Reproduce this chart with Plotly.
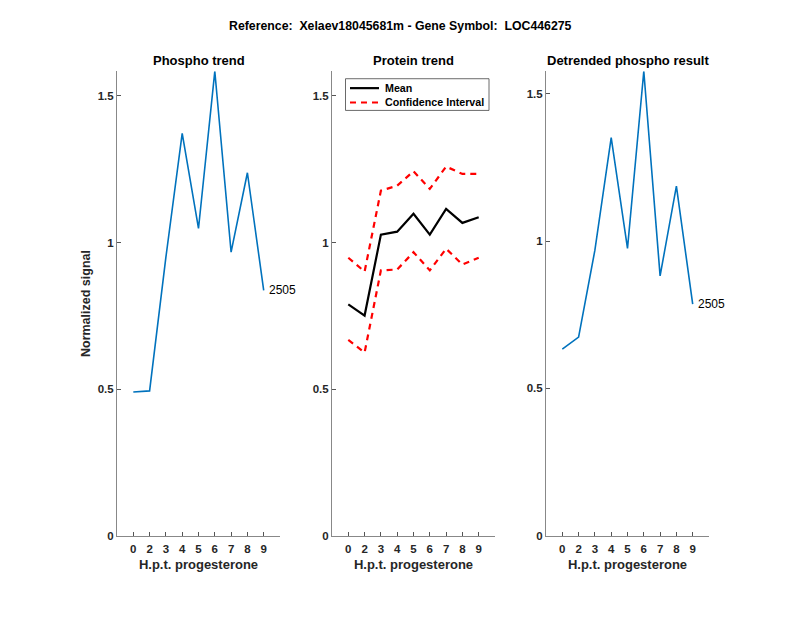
import plotly.graph_objects as go

x_labels = ["0", "2", "3", "4", "5", "6", "7", "8", "9"]
x_idx = list(range(1, 10))

phospho = [0.490, 0.494, 0.950, 1.372, 1.048, 1.584, 0.967, 1.238, 0.837]
prot_mean = [0.789, 0.751, 1.027, 1.037, 1.098, 1.027, 1.115, 1.067, 1.086]
prot_upper = [0.948, 0.901, 1.177, 1.194, 1.243, 1.183, 1.259, 1.234, 1.234]
prot_lower = [0.668, 0.625, 0.905, 0.908, 0.967, 0.905, 0.979, 0.925, 0.948]
detrended = [0.633, 0.674, 0.969, 1.351, 0.975, 1.576, 0.882, 1.186, 0.786]
peptide_id = "2505"

main_title = "Reference:  Xelaev18045681m - Gene Symbol:  LOC446275"
titles = ["Phospho trend", "Protein trend", "Detrended phospho result"]
xlab = "H.p.t. progesterone"
ylab = "Normalized signal"
legend_names = ["Mean", "Confidence Interval"]

BLUE = "#0072BD"
AX = "#262626"
FONT = "Liberation Sans"
DASH = "6px,5px"

fig = go.Figure()

fig.add_trace(go.Scatter(x=x_idx, y=phospho, mode="lines", line=dict(color=BLUE, width=1.6),
                         showlegend=False, xaxis="x", yaxis="y"))
fig.add_trace(go.Scatter(x=x_idx, y=prot_mean, mode="lines", line=dict(color="black", width=2.2),
                         showlegend=False, xaxis="x2", yaxis="y2"))
fig.add_trace(go.Scatter(x=x_idx, y=prot_upper, mode="lines",
                         line=dict(color="red", width=2.2, dash=DASH),
                         showlegend=False, xaxis="x2", yaxis="y2"))
fig.add_trace(go.Scatter(x=x_idx, y=prot_lower, mode="lines",
                         line=dict(color="red", width=2.2, dash=DASH),
                         showlegend=False, xaxis="x2", yaxis="y2"))
fig.add_trace(go.Scatter(x=x_idx, y=detrended, mode="lines", line=dict(color=BLUE, width=1.6),
                         showlegend=False, xaxis="x3", yaxis="y3"))

W, H = 800, 618
xdoms = [(117, 280), (332, 495), (546, 709)]
ytop, ybot = 72, 541
ydom = [(H - ybot) / H, (H - ytop) / H]
yranges = [[0, 1.584], [0, 1.584], [0, 1.576]]


def px(v):
    return v / W


def py(v):
    return (H - v) / H


layout = dict(
    width=W, height=H, margin=dict(l=0, r=0, t=0, b=0),
    paper_bgcolor="white", plot_bgcolor="white",
    font=dict(family=FONT, color=AX, size=11),
    showlegend=False,
)
annotations = []
shapes = []
for i in range(3):
    sfx = "" if i == 0 else str(i + 1)
    layout["xaxis" + sfx] = dict(
        domain=[px(xdoms[i][0]), px(xdoms[i][1])], range=[0, 10],
        tickmode="array", tickvals=x_idx, ticktext=x_labels,
        ticks="inside", ticklen=4, tickcolor="#555555", ticklabelstandoff=2,
        showline=True, linecolor="#888888", linewidth=1,
        showgrid=False, zeroline=False, anchor="y" + sfx,
        tickfont=dict(family=FONT, size=11.5, color=AX, weight="bold"),
        title=dict(text=xlab, font=dict(family=FONT, size=13, color=AX, weight="bold"), standoff=6),
    )
    layout["yaxis" + sfx] = dict(
        domain=ydom, range=yranges[i],
        tickmode="array", tickvals=[0, 0.5, 1, 1.5], ticktext=["0", "0.5", "1", "1.5"],
        ticks="inside", ticklen=4, tickcolor="#555555",
        showline=True, linecolor="#888888", linewidth=1,
        showgrid=False, zeroline=False, anchor="x" + sfx,
        tickfont=dict(family=FONT, size=11.5, color=AX, weight="bold"),
    )
    cx = px((xdoms[i][0] + xdoms[i][1]) / 2)
    annotations.append(dict(text="<b>" + titles[i] + "</b>", x=cx, y=py(61),
                            xref="paper", yref="paper", showarrow=False,
                            xanchor="center", yanchor="middle",
                            font=dict(family=FONT, size=13, color="black")))

layout["yaxis"]["title"] = dict(text=ylab, font=dict(family=FONT, size=12.5, color=AX, weight="bold"),
                                standoff=4)

annotations.append(dict(text="<b>" + main_title + "</b>", x=0.5, y=py(26),
                        xref="paper", yref="paper", showarrow=False,
                        xanchor="center", yanchor="middle",
                        font=dict(family=FONT, size=12.3, color="black")))
annotations.append(dict(text=peptide_id, x=x_idx[-1], y=phospho[-1], xref="x", yref="y",
                        xanchor="left", yanchor="middle", xshift=3, showarrow=False,
                        font=dict(family=FONT, size=12, color="black")))
annotations.append(dict(text=peptide_id, x=x_idx[-1], y=detrended[-1], xref="x3", yref="y3",
                        xanchor="left", yanchor="middle", xshift=3, showarrow=False,
                        font=dict(family=FONT, size=12, color="black")))

# legend box (drawn manually to match compact MATLAB legend)
shapes.append(dict(type="rect", xref="paper", yref="paper",
                   x0=px(345.5), x1=px(489), y0=py(111.5), y1=py(79.5),
                   line=dict(color="#444444", width=0.8), fillcolor="white", layer="above"))
leg_rows = [(89, dict(color="black", width=2.2)), (103.5, dict(color="red", width=2.2, dash=DASH))]
for (yy, ln), name in zip(leg_rows, legend_names):
    shapes.append(dict(type="line", xref="paper", yref="paper",
                       x0=px(350), x1=px(379), y0=py(yy), y1=py(yy), line=ln, layer="above"))
    annotations.append(dict(text="<b>" + name + "</b>", x=px(383), y=py(yy), xref="paper", yref="paper",
                            xanchor="left", yanchor="middle", showarrow=False,
                            font=dict(family=FONT, size=10.7, color="black")))

layout["annotations"] = annotations
layout["shapes"] = shapes

fig.update_layout(**layout)
fig.write_html("out.html", config={"displayModeBar": False},
               post_script="document.body.style.margin='0';")
